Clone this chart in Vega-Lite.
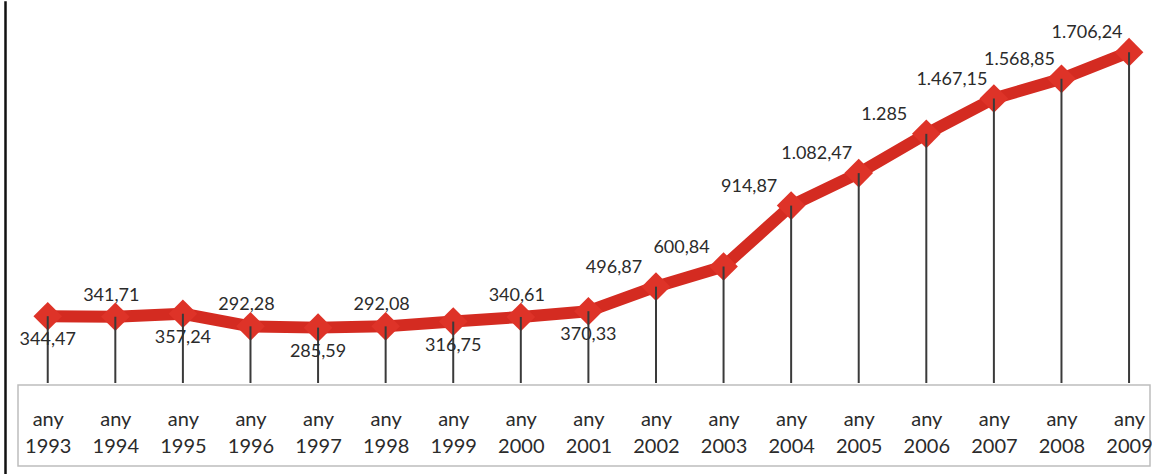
{
  "$schema": "https://vega.github.io/schema/vega-lite/v6.json",
  "padding": {"left": 3, "top": 0, "right": 0, "bottom": 0},
  "background": "white",
  "config": {"view": {"stroke": null}, "font": "Lato", "concat": {"spacing": 0}},
  "datasets": {
    "rev": [
      {"year": 1993, "value": 344.47, "label": "344,47", "pos": "below"},
      {"year": 1994, "value": 341.71, "label": "341,71", "pos": "above"},
      {"year": 1995, "value": 357.24, "label": "357,24", "pos": "below"},
      {"year": 1996, "value": 292.28, "label": "292,28", "pos": "above"},
      {"year": 1997, "value": 285.59, "label": "285,59", "pos": "below"},
      {"year": 1998, "value": 292.08, "label": "292,08", "pos": "above"},
      {"year": 1999, "value": 316.75, "label": "316,75", "pos": "below"},
      {"year": 2000, "value": 340.61, "label": "340,61", "pos": "above"},
      {"year": 2001, "value": 370.33, "label": "370,33", "pos": "below"},
      {"year": 2002, "value": 496.87, "label": "496,87", "pos": "aboveleft"},
      {"year": 2003, "value": 600.84, "label": "600,84", "pos": "aboveleft"},
      {"year": 2004, "value": 914.87, "label": "914,87", "pos": "aboveleft"},
      {"year": 2005, "value": 1082.47, "label": "1.082,47", "pos": "aboveleft"},
      {"year": 2006, "value": 1285, "label": "1.285", "pos": "aboveleft"},
      {"year": 2007, "value": 1467.15, "label": "1.467,15", "pos": "aboveleft"},
      {"year": 2008, "value": 1568.85, "label": "1.568,85", "pos": "aboveleft"},
      {"year": 2009, "value": 1706.24, "label": "1.706,24", "pos": "aboveleft"}
    ]
  },
  "spacing": 10,
  "hconcat": [
    {
      "width": 1,
      "height": 474,
      "view": {"stroke": "#111111", "strokeWidth": 1.5, "fill": null},
      "data": {"values": [{}]},
      "mark": {"type": "rule", "opacity": 0},
      "encoding": {}
    },
    {
      "spacing": 0,
      "vconcat": [
        {
          "width": 1132,
          "height": 381,
          "data": {"name": "rev"},
          "encoding": {
            "x": {"field": "year", "type": "quantitative", "scale": {"domain": [1992.56, 2009.31], "nice": false, "zero": false}, "axis": null},
            "y": {"field": "value", "type": "quantitative", "scale": {"domain": [0, 1965], "nice": false}, "axis": null}
          },
          "layer": [
            {"mark": {"type": "line", "color": "#d42b21", "strokeWidth": 12, "strokeJoin": "round", "strokeCap": "round"}},
            {"mark": {"type": "point", "shape": "diamond", "filled": true, "size": 820, "color": "#de3328", "opacity": 1}},
            {"mark": {"type": "rule", "color": "#3a3a3a", "strokeWidth": 2}, "encoding": {"y2": {"datum": 0}}},
            {
              "transform": [{"filter": "datum.pos == 'below'"}],
              "mark": {"type": "text", "dy": 24, "baseline": "middle", "fontSize": 18, "color": "#2b2b2b"},
              "encoding": {"text": {"field": "label"}}
            },
            {
              "transform": [{"filter": "datum.pos == 'above'"}],
              "mark": {"type": "text", "dy": -21, "dx": -4, "baseline": "middle", "fontSize": 18, "color": "#2b2b2b"},
              "encoding": {"text": {"field": "label"}}
            },
            {
              "transform": [{"filter": "datum.pos == 'aboveleft'"}],
              "mark": {"type": "text", "dy": -19, "dx": -42, "baseline": "middle", "fontSize": 18, "color": "#2b2b2b"},
              "encoding": {"text": {"field": "label"}}
            }
          ]
        },
        {
          "width": 1132,
          "height": 81,
          "view": {"stroke": "#bdbdbd", "strokeWidth": 1.5, "fill": "white"},
          "data": {"name": "rev"},
          "mark": {"type": "point", "opacity": 0},
          "encoding": {
            "x": {
              "field": "year", "type": "quantitative",
              "scale": {"domain": [1992.56, 2009.31], "nice": false, "zero": false},
              "axis": {
                "orient": "bottom", "offset": -57, "domain": false, "ticks": false, "grid": false,
                "title": null, "format": "d",
                "values": [1993,1994,1995,1996,1997,1998,1999,2000,2001,2002,2003,2004,2005,2006,2007,2008,2009],
                "labelExpr": "['any', datum.label]",
                "labelFontSize": 20, "labelLineHeight": 27, "labelColor": "#2b2b2b",
                "labelPadding": 0, "labelOverlap": false, "labelFlush": false, "labelBaseline": "top"
              }
            }
          }
        }
      ]
    }
  ]
}
